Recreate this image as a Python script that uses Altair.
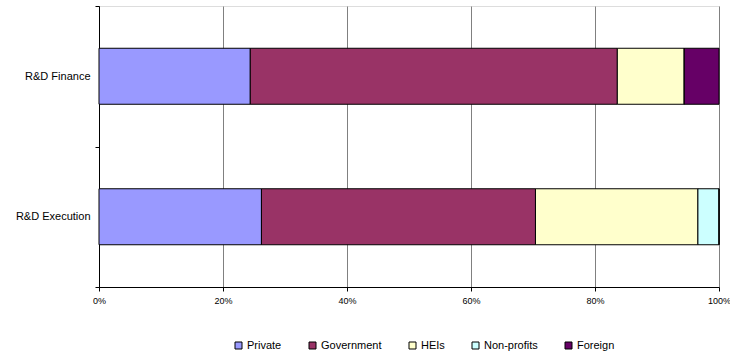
import altair as alt
import pandas as pd

categories = ["R&D Finance", "R&D Execution"]
sectors = ["Private", "Government", "HEIs", "Non-profits", "Foreign"]
finance = [24.4, 59.2, 10.8, 0.0, 5.6]
execution = [26.2, 44.2, 26.2, 3.4, 0.0]
colors = ["#9999FF", "#993366", "#FFFFCC", "#CCFFFF", "#660066"]

rows = []
for cat, vals in zip(categories, [finance, execution]):
    for i, (s, v) in enumerate(zip(sectors, vals)):
        rows.append({"cat": cat, "sector": s, "value": v / 100.0, "ord": i})
df = pd.DataFrame(rows)

FONT = "Liberation Sans"

chart = alt.Chart(df).mark_bar(stroke="black", strokeWidth=1, size=56).encode(
    y=alt.Y("cat:N", sort=categories, title=None,
            scale=alt.Scale(paddingInner=0, paddingOuter=0),
            axis=alt.Axis(tickBand="extent", labelFontSize=11, labelFont=FONT,
                          labelColor="black", domainColor="black", tickColor="black",
                          tickSize=4, labelPadding=5, grid=False)),
    x=alt.X("value:Q", stack="zero", title=None,
            scale=alt.Scale(domain=[0, 1], nice=False),
            axis=alt.Axis(format="%", values=[0, 0.2, 0.4, 0.6, 0.8, 1.0],
                          labelFontSize=9, labelFont=FONT, labelColor="black",
                          domainColor="black", tickColor="black", tickSize=4,
                          labelPadding=5, grid=True, gridColor="#808080",
                          gridOpacity=1, labelFlush=False)),
    color=alt.Color("sector:N", sort=sectors, title=None,
                    scale=alt.Scale(domain=sectors, range=colors),
                    legend=alt.Legend(orient="none", direction="horizontal",
                                      legendX=134, legendY=334,
                                      symbolType="square", symbolSize=49,
                                      symbolStrokeColor="black", symbolStrokeWidth=1,
                                      symbolOpacity=1,
                                      labelFont=FONT, labelFontSize=11, labelColor="black",
                                      labelOffset=3, columnPadding=25)),
    order=alt.Order("ord:Q"),
).properties(
    width=620, height=281,
    autosize=alt.AutoSizeParams(type="none"),
    padding={"left": 99, "top": 6, "right": 11, "bottom": 66},
).configure_view(stroke="#b0b0b0").configure(background="white")

chart.save("out.html", embed_options={"renderer": "svg", "actions": False})
